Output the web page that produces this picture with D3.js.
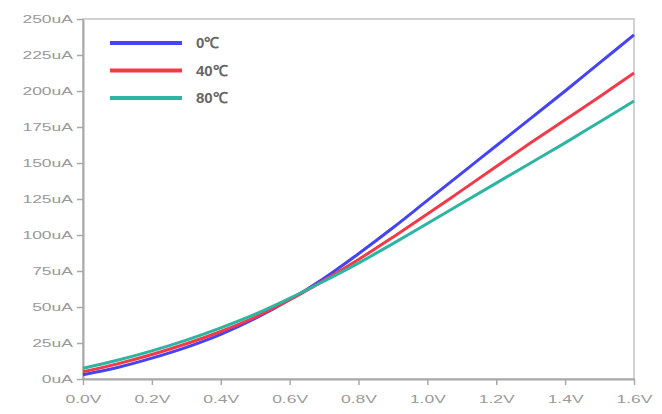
<!DOCTYPE html>
<html><head><meta charset="utf-8">
<script src="https://cdn.jsdelivr.net/npm/d3@7/dist/d3.min.js"></script>
<style>body{margin:0;background:#fff}svg{display:block}</style>
</head><body>
<svg id="c" width="662" height="414"></svg>
<script>
const voltages = [0,0.1,0.2,0.3,0.4,0.5,0.6,0.7,0.8,0.9,1.0,1.1,1.2,1.3,1.4,1.5,1.6];
const seriesNames = ["0℃","40℃","80℃"];
const current0C  = [3,8,14.5,22,31,42,55,70,87,105,124,143,162,181,200,219.5,239];
const current40C = [5,10.5,17,24.5,33,43,55,68.5,83,98.5,114.5,131,147.5,164,180,196,212.5];
const current80C = [7.5,13,19.5,27,35.5,45,56,68,80.5,94,108,122,136,150,164,178.5,193];
const xTicks = [0,0.2,0.4,0.6,0.8,1.0,1.2,1.4,1.6];
const yTicks = [0,25,50,75,100,125,150,175,200,225,250];
const colors = ["#4444f4","#f23a48","#2bb5a2"];

const svg = d3.select("#c");
const L=83,R=634,T=19,B=379;
const x = d3.scaleLinear().domain([0,1.6]).range([L,R]);
const y = d3.scaleLinear().domain([0,250]).range([B,T]);
const axisCol="#a8a8a8", textCol="#9a9a9a";

svg.append("rect").attr("x",L).attr("y",T).attr("width",R-L).attr("height",B-T)
  .attr("fill","none").attr("stroke","#c4c4c4").attr("stroke-width",1.5);

const stretch = (sel, k) => sel.each(function(){
  const w = this.getComputedTextLength();
  d3.select(this).attr("textLength", w*k).attr("lengthAdjust","spacingAndGlyphs");
});

const gx = svg.append("g").attr("transform",`translate(0,${B})`)
  .call(d3.axisBottom(x).tickValues(xTicks).tickFormat(d=>d.toFixed(1)+"V").tickSize(6).tickSizeOuter(0));
const gy = svg.append("g").attr("transform",`translate(${L},0)`)
  .call(d3.axisLeft(y).tickValues(yTicks).tickFormat(d=>d+"uA").tickSize(6).tickSizeOuter(0));
[gx,gy].forEach(g=>{
  g.select(".domain").attr("stroke",axisCol).attr("stroke-width",2);
  g.selectAll(".tick line").attr("stroke",axisCol).attr("stroke-width",1.5);
  g.selectAll("text").attr("fill",textCol).style("font-family","Arial, Liberation Sans, sans-serif")
    .style("font-size","10px");
});
gx.selectAll("text").attr("dy","1.5em");
gy.selectAll("text").attr("x",-10).attr("dy","0.35em");
stretch(gx.selectAll("text"),1.75);
stretch(gy.selectAll("text"),1.75);

const series = [current0C,current40C,current80C];
const line = d3.line().x((d,i)=>x(voltages[i])).y(d=>y(d)).curve(d3.curveCatmullRom);
series.forEach((s,k)=>{
  svg.append("path").datum(s).attr("d",line).attr("fill","none")
    .attr("stroke",colors[k]).attr("stroke-width",3);
});

const leg = svg.append("g");
seriesNames.forEach((n,k)=>{
  const yy = 43 + k*27.5;
  leg.append("line").attr("x1",110).attr("x2",182).attr("y1",yy).attr("y2",yy)
    .attr("stroke",colors[k]).attr("stroke-width",4);
  leg.append("text").attr("x",196).attr("y",yy).attr("dy","0.36em").text(n)
    .attr("fill","#666").style("font-family","Arial, Liberation Sans, sans-serif")
    .style("font-size","15px").style("font-weight","bold");
});
</script>
</body></html>
